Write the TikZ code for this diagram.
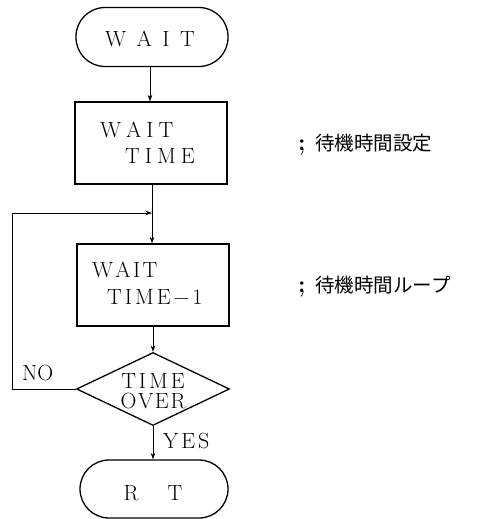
\documentclass[tikz,border=0pt]{standalone}
\usepackage{fontspec}
\newfontfamily\cjk{Noto Sans CJK JP}
\usetikzlibrary{shapes.geometric,arrows.meta}
\tikzset{
  term/.style={draw,line width=1.3pt,rectangle,rounded corners=29pt,minimum width=152pt,minimum height=59pt,inner sep=0pt},
  procbox/.style={draw,line width=1.3pt,rectangle,minimum width=152pt,minimum height=82pt,inner sep=0pt},
  decis/.style={draw,line width=1.3pt,diamond,minimum width=153pt,minimum height=73pt,inner sep=0pt},
  lbl/.style={inner sep=0pt,font=\fontsize{22}{24}\selectfont},
  note/.style={inner sep=0pt,anchor=base west},
  conn/.style={line width=0.6pt},
  arr/.style={conn,-{Stealth[length=6.5pt,width=4.5pt]}}
}
\newcommand{\gp}[1]{\hspace{#1pt}}
\begin{document}
\begin{tikzpicture}[x=1pt,y=-1pt]
\useasboundingbox (0,0) rectangle (500,519);
\node[term] (wait) at (152,37) {};
\node[lbl,anchor=base] (waitt) at (150,47) {W\gp{10.5}A\gp{10.5}I\gp{10.5}T};
\node[procbox] (b1) at (151,143) {};
\node[lbl,anchor=base west] (b1a) at (100,137) {W\gp{5}A\gp{5}I\gp{5}T};
\node[lbl,anchor=base west] (b1b) at (125,163) {T\gp{5}I\gp{5}M\gp{5}E};
\node[procbox] (b2) at (153,285) {};
\node[lbl,anchor=base west] (b2a) at (92,277) {W\gp{2.3}A\gp{2.3}I\gp{2.3}T};
\node[lbl,anchor=base west] (b2b) at (107,304) {T\gp{3}I\gp{3}M\gp{3}E\gp{3}−\gp{3}1};
\node[decis] (dia) at (153,389) {};
\node[lbl,anchor=base] (d1) at (153,388) {T\gp{3}I\gp{3}M\gp{3}E};
\node[lbl,anchor=base] (d2) at (153,408) {O\gp{1.7}V\gp{1.7}E\gp{1.7}R};
\node[term,minimum width=148pt,minimum height=58pt] (rt) at (154,489) {};
\node[lbl,anchor=base] (rtt) at (153,500) {R\gp{29}T};
\node[lbl,anchor=base west] (no) at (22,380) {NO};
\node[lbl,anchor=base west] (yes) at (163,448) {Y\gp{3}E\gp{3}S};
\coordinate (j) at (152,213);
\coordinate (lt) at (12,213);
\coordinate (lb) at (12,389);
\draw[arr] (wait.south -| 150,0) -- (b1.north -| 150,0);
\draw[conn] (b1.south -| 152,0) -- (j);
\draw[arr] (j) -- (b2.north -| 152,0);
\draw[arr] (b2.south -| 153,0) -- (dia.north);
\draw[arr] (dia.south) -- (rt.north -| 153,0);
\draw[arr] (dia.west) -- (lb) -- (lt) -- (j);
\node[note,font=\bfseries\fontsize{24}{26}\selectfont] (s1) at (298,150) {;};
\node[note,font=\cjk\fontsize{19.5}{21}\selectfont] (n1) at (315,150) {待機時間設定};
\node[note,font=\bfseries\fontsize{24}{26}\selectfont] (s2) at (298,292) {;};
\node[note,font=\cjk\fontsize{19.5}{21}\selectfont] (n2) at (315,292) {待機時間ループ};
\end{tikzpicture}
\end{document}
